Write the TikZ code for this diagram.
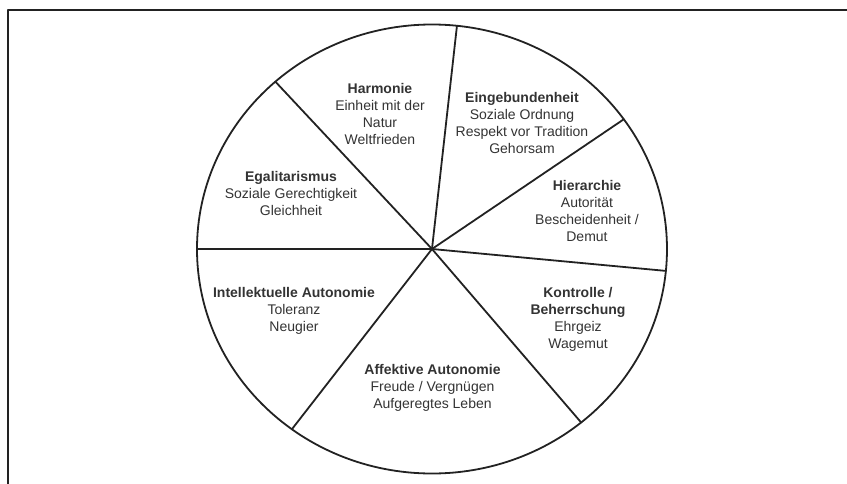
\documentclass[tikz,border=0pt]{standalone}
\usepackage{fontspec}
\setmainfont{Liberation Sans}
\definecolor{linie}{HTML}{222222}
\definecolor{schrift}{HTML}{333333}
\begin{document}
\begin{tikzpicture}[x=1pt,y=1pt,line cap=round,line join=round,
  feld/.style={align=center,text=schrift,inner sep=0pt,font=\fontsize{14}{17}\selectfont},
  rand/.style={line width=1.8pt,draw=linie}]
\useasboundingbox (-432,-234) rectangle (415,249);
\draw[linie,line width=1.6pt] (-424,-240) -- (-424,239) -- (420,239);
\coordinate (c) at (0,0);
\draw[rand] (c) ellipse [x radius=235,y radius=224.5];
\foreach \a in {180,131.8,83.9,35.3,-5.6,-50.6,-126.6}
  \draw[rand] (c) -- ({235*cos(\a)},{224.5*sin(\a)});
\node[feld] (harmonie) at (-52,135.5) {\textbf{Harmonie}\\Einheit mit der\\Natur\\Weltfrieden};
\node[feld] (eingebunden) at (90,126) {\textbf{Eingebundenheit}\\Soziale Ordnung\\Respekt vor Tradition\\Gehorsam};
\node[feld] (egalit) at (-141,56) {\textbf{Egalitarismus}\\Soziale Gerechtigkeit\\Gleichheit};
\node[feld] (hierarchie) at (155,38) {\textbf{Hierarchie}\\Autorität\\Bescheidenheit /\\Demut};
\node[feld] (intellekt) at (-138,-62) {\textbf{Intellektuelle Autonomie}\\Toleranz\\Neugier};
\node[feld] (kontrolle) at (146,-70.5) {\textbf{Kontrolle /}\\\textbf{Beherrschung}\\Ehrgeiz\\Wagemut};
\node[feld] (affektiv) at (0.5,-139) {\textbf{Affektive Autonomie}\\Freude / Vergnügen\\Aufgeregtes Leben};
\end{tikzpicture}
\end{document}
